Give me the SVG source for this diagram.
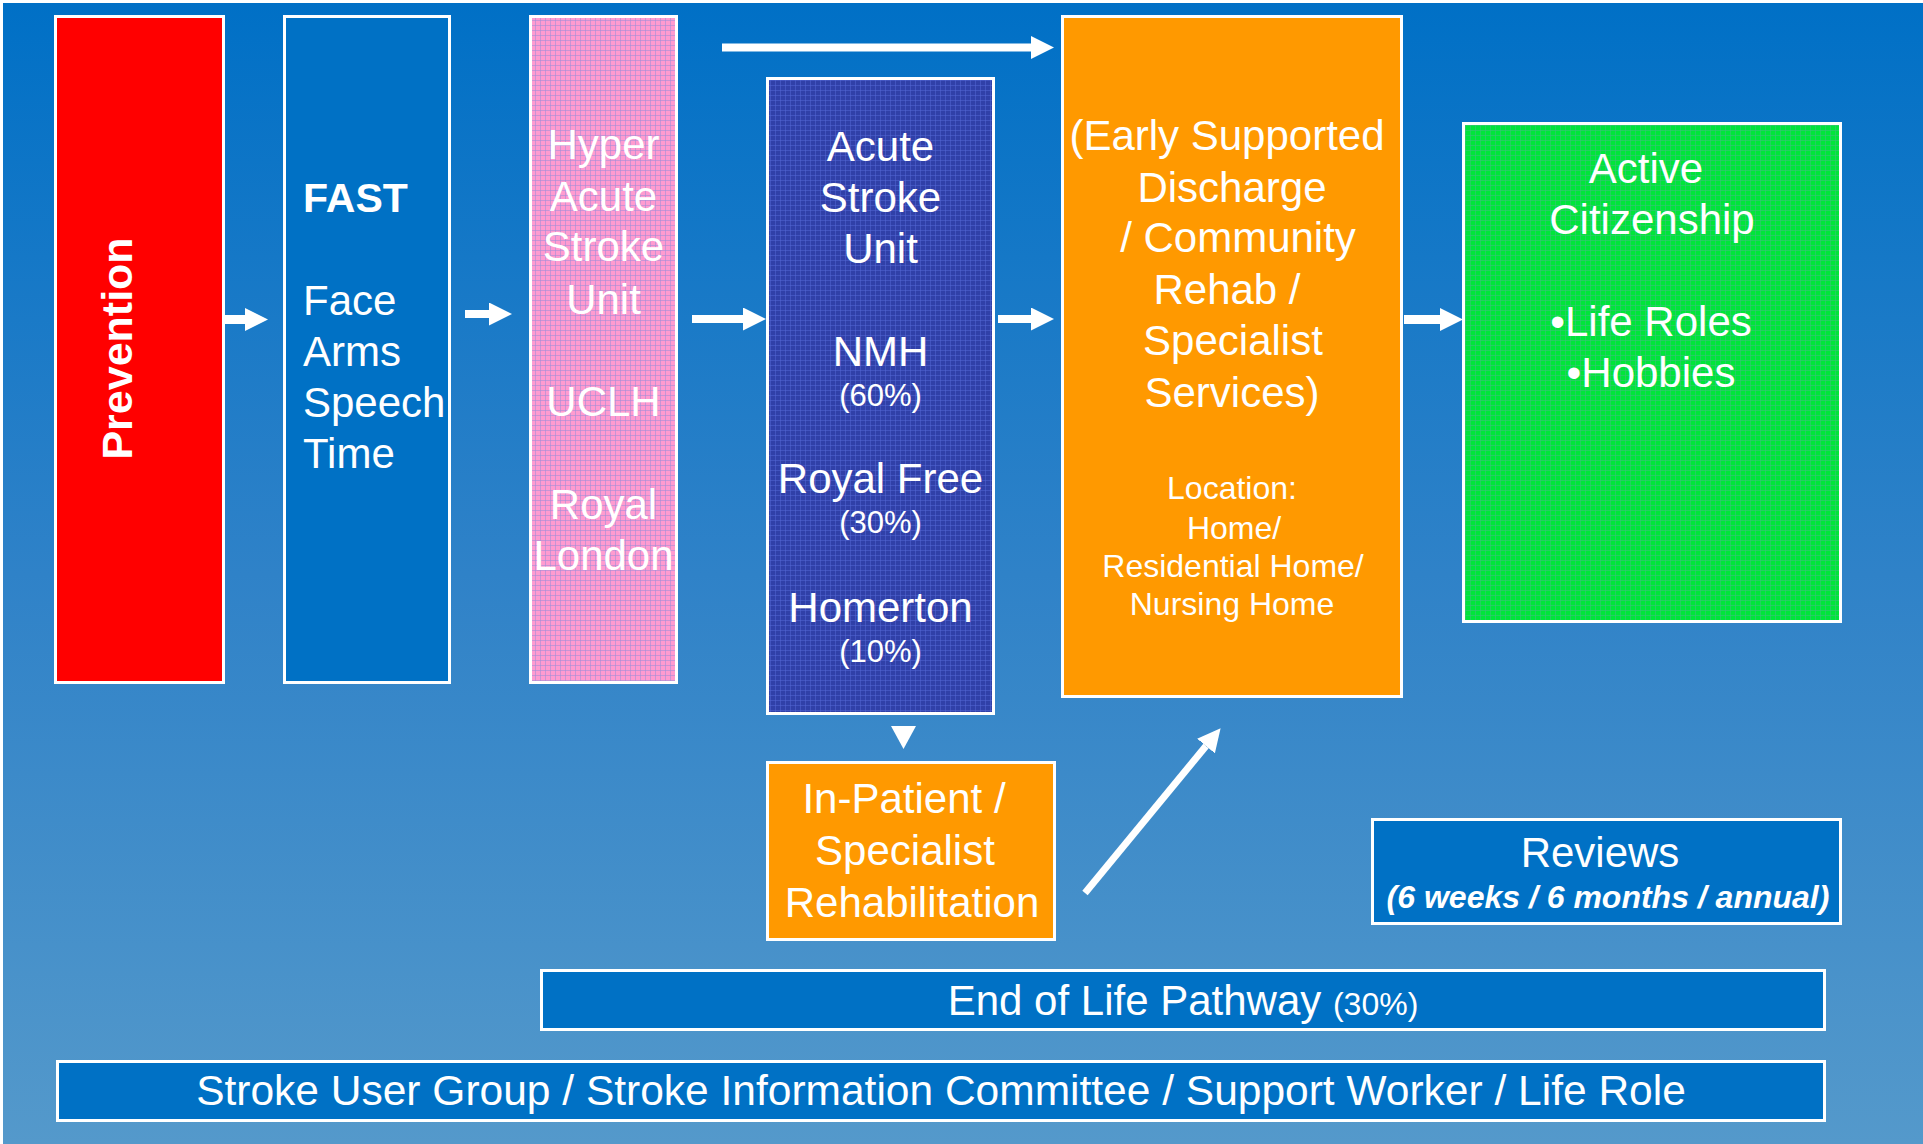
<svg xmlns="http://www.w3.org/2000/svg" width="1923" height="1144" viewBox="0 0 1923 1144">
<style>
text{font-family:"Liberation Sans",Arial,sans-serif;fill:#fff}
.box{stroke:#fff;stroke-width:3}
.t42{font-size:42px}
.t32{font-size:32px}
.mid{text-anchor:middle}
.conn{stroke:#fff;fill:none;marker-end:url(#ah)}
</style>
<defs>
<linearGradient id="bg" x1="0" y1="0" x2="0" y2="1">
<stop offset="0" stop-color="#0070C6"/>
<stop offset="0.5" stop-color="#2F82C8"/>
<stop offset="1" stop-color="#5499CB"/>
</linearGradient>
<pattern id="pink" width="5" height="5" patternUnits="userSpaceOnUse">
<rect width="5" height="5" fill="#FF9BD0"/>
<rect width="5" height="1" fill="#9C8ED6" opacity="0.55"/>
<rect width="1" height="5" fill="#9C8ED6" opacity="0.55"/>
</pattern>
<pattern id="navy" width="5" height="5" patternUnits="userSpaceOnUse">
<rect width="5" height="5" fill="#3040A8"/>
<rect width="5" height="1" fill="#5367D6" opacity="0.5"/>
<rect width="1" height="5" fill="#5367D6" opacity="0.5"/>
</pattern>
<pattern id="grn" width="5" height="5" patternUnits="userSpaceOnUse">
<rect width="5" height="5" fill="#00E53A"/>
<rect width="5" height="1" fill="#3CC07A" opacity="0.6"/>
<rect width="1" height="5" fill="#3CC07A" opacity="0.6"/>
</pattern>
<marker id="ah" viewBox="0 0 23 23" markerWidth="23" markerHeight="23" refX="0" refY="11.5" markerUnits="userSpaceOnUse" orient="auto">
<path d="M0,0 L23,11.5 L0,23 z" fill="#fff"/>
</marker>
</defs>
<rect width="1923" height="1144" fill="#fff"/>
<rect x="3" y="3" width="1920" height="1141" fill="url(#bg)"/>

<g id="prevention">
<rect class="box" x="55.5" y="16.5" width="168" height="666" fill="#FF0000"/>
<text transform="translate(132,348.5) rotate(-90)" class="mid" font-size="43" font-weight="bold">Prevention</text>
</g>
<g id="fast">
<rect class="box" x="284.5" y="16.5" width="165" height="666" fill="#0071C5"/>
<text x="303" y="212" font-size="41" font-weight="bold">FAST</text>
<text class="t42" x="303" y="315">Face</text>
<text class="t42" x="303" y="366">Arms</text>
<text class="t42" x="303" y="417">Speech</text>
<text class="t42" x="303" y="468">Time</text>
</g>
<g id="hyper-acute">
<rect class="box" x="530.5" y="16.5" width="146" height="666" fill="url(#pink)"/>
<g class="t42 mid">
<text x="603.5" y="159">Hyper</text>
<text x="603.5" y="211">Acute</text>
<text x="603.5" y="261">Stroke</text>
<text x="603.5" y="314">Unit</text>
<text x="603.5" y="416">UCLH</text>
<text x="603.5" y="519">Royal</text>
<text x="603.5" y="570">London</text>
</g>
</g>
<g id="acute">
<rect class="box" x="767.5" y="78.5" width="226" height="635" fill="url(#navy)"/>
<g class="mid">
<text class="t42" x="880.5" y="161">Acute</text>
<text class="t42" x="880.5" y="212">Stroke</text>
<text class="t42" x="880.5" y="263">Unit</text>
<text class="t42" x="880.5" y="366">NMH</text>
<text x="880.5" y="406" font-size="31">(60%)</text>
<text class="t42" x="880.5" y="493">Royal Free</text>
<text x="880.5" y="533" font-size="31">(30%)</text>
<text class="t42" x="880.5" y="622">Homerton</text>
<text x="880.5" y="662" font-size="31">(10%)</text>
</g>
</g>
<g id="esd">
<rect class="box" x="1062.5" y="16.5" width="339" height="680" fill="#FF9900"/>
<g class="mid">
<text class="t42" x="1227" y="150">(Early Supported</text>
<text class="t42" x="1232" y="202">Discharge</text>
<text class="t42" x="1238" y="252">/ Community</text>
<text class="t42" x="1227" y="304">Rehab /</text>
<text class="t42" x="1233" y="355">Specialist</text>
<text class="t42" x="1232" y="407">Services)</text>
<text class="t32" x="1232" y="499">Location:</text>
<text class="t32" x="1234" y="539">Home/</text>
<text class="t32" x="1233" y="577">Residential Home/</text>
<text class="t32" x="1232" y="615">Nursing Home</text>
</g>
</g>
<g id="active-citizenship">
<rect class="box" x="1463.5" y="123.5" width="377" height="498" fill="url(#grn)"/>
<g class="t42 mid">
<text x="1646" y="183">Active</text>
<text x="1652" y="234">Citizenship</text>
<text x="1651" y="336">•Life Roles</text>
<text x="1651" y="387">•Hobbies</text>
</g>
</g>
<g id="inpatient">
<rect class="box" x="767.5" y="762.5" width="287" height="177" fill="#FF9900"/>
<g class="t42 mid">
<text x="904" y="813">In-Patient /</text>
<text x="905" y="865">Specialist</text>
<text x="912" y="917">Rehabilitation</text>
</g>
</g>
<g id="reviews">
<rect class="box" x="1372.5" y="819.5" width="468" height="104" fill="#0071C5"/>
<text class="t42 mid" x="1600" y="867">Reviews</text>
<text class="t32 mid" x="1608" y="908" font-weight="bold" font-style="italic">(6 weeks / 6 months / annual)</text>
</g>
<g id="end-of-life">
<rect class="box" x="541.5" y="970.5" width="1283" height="59" fill="#0071C5"/>
<text class="t42 mid" x="1183" y="1015">End of Life Pathway <tspan font-size="32">(30%)</tspan></text>
</g>
<g id="support">
<rect class="box" x="57.5" y="1061.5" width="1767" height="59" fill="#0071C5"/>
<text class="mid" x="941" y="1105" font-size="42.5">Stroke User Group / Stroke Information Committee / Support Worker / Life Role</text>
</g>

<g id="connectors">
<line class="conn" x1="223" y1="319.5" x2="245" y2="319.5" stroke-width="9"/>
<line class="conn" x1="465" y1="314" x2="489" y2="314" stroke-width="8"/>
<line class="conn" x1="722" y1="47.5" x2="1031" y2="47.5" stroke-width="8"/>
<line class="conn" x1="692" y1="319" x2="743" y2="319" stroke-width="8"/>
<line class="conn" x1="998" y1="319" x2="1031" y2="319" stroke-width="8"/>
<line class="conn" x1="1404" y1="319.5" x2="1440" y2="319.5" stroke-width="9"/>
<line class="conn" x1="1085" y1="893" x2="1206" y2="746" stroke-width="7"/>
<polygon points="891,726 916,726 903.5,749" fill="#fff"/>
</g>
</svg>
